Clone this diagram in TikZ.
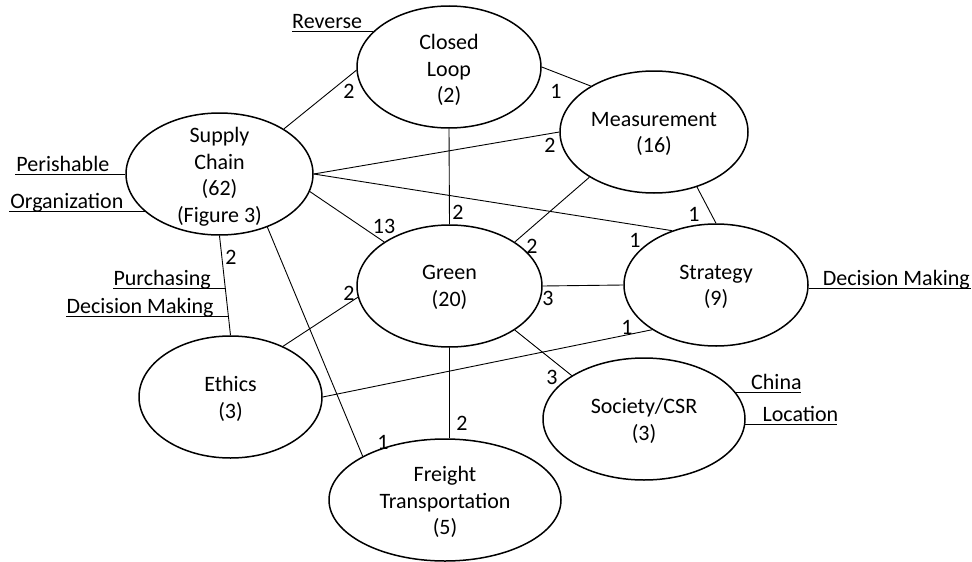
\documentclass[tikz,border=0pt]{standalone}
\usepackage{fontspec}
\setmainfont{Carlito}
\usetikzlibrary{shapes.geometric}
\begin{document}
\begin{tikzpicture}[x=1pt,y=-1pt,
  topic/.style={ellipse, draw, line width=1.5pt, inner sep=0pt},
  ttxt/.style={align=center, inner sep=0pt, font=\fontsize{22}{26.5}\selectfont},
  link/.style={line width=0.9pt},
  num/.style={inner sep=0pt, font=\fontsize{22}{26.5}\selectfont},
  side/.style={inner sep=0pt, anchor=base west, font=\fontsize{22}{26.5}\selectfont}]
\fill[white] (0,0) rectangle (972,562);
\useasboundingbox (0,0) rectangle (972,562);

% topics
\node[topic, minimum width=184pt, minimum height=122pt] (cl) at (449,67) {};
\node[topic, minimum width=188pt, minimum height=122pt] (me) at (654,132) {};
\node[topic, minimum width=187pt, minimum height=122pt] (sc) at (219.5,174) {};
\node[topic, minimum width=185pt, minimum height=122pt] (gr) at (449.5,286) {};
\node[topic, minimum width=184pt, minimum height=122pt] (st) at (716,285) {};
\node[topic, minimum width=183pt, minimum height=122pt] (et) at (230.5,397) {};
\node[topic, minimum width=232pt, minimum height=122pt] (fr) at (445,500) {};
\node[topic, minimum width=202pt, minimum height=122pt] (so) at (644,419) {};

\node[ttxt] (clt) at (449,70) {Closed\\Loop\\(2)};
\node[ttxt] (met) at (654,134) {Measurement\\(16)};
\node[ttxt] (sct) at (219.5,176.5) {Supply\\Chain\\(62)\\(Figure 3)};
\node[ttxt] (grt) at (449.5,287.5) {Green\\(20)};
\node[ttxt] (stt) at (716,287) {Strategy\\(9)};
\node[ttxt] (ett) at (230.5,399) {Ethics\\(3)};
\node[ttxt] (frt) at (445,502) {Freight\\Transportation\\(5)};
\node[ttxt] (sot) at (644,421) {Society/CSR\\(3)};

% connectors
\draw[link] (sc.35) -- (cl.182);
\draw[link] (cl.0) -- (me.144);
\draw[link] (sc.0) -- (me.180);
\draw[link] (sc.0) -- (st.129);
\draw[link] (sc.-11) -- (gr.146);
\draw[link] (cl.270) -- (gr.90);
\draw[link] (me.-145) -- (gr.34);
\draw[link] (me.-52) -- (st.90);
\draw[link] (gr.0) -- (st.180);
\draw[link] (gr.-34) -- (so.149);
\draw[link] (gr.187) -- (et.44);
\draw[link] (gr.270) -- (gr.270 |- fr.north);
\draw[link] (sc.-48) -- (fr.152);
\draw[link] (sc.270) -- coordinate[pos=0.53] (pu) coordinate[pos=0.81] (dmk) (et.90);
\draw[link] (et.0) -- (st.-145);

% counts
\node[num] (n1) at (349,91) {2};
\node[num] (n2) at (556,91) {1};
\node[num] (n3) at (550,145) {2};
\node[num] (n4) at (458,212) {2};
\node[num] (n5) at (384,226) {13};
\node[num] (n6) at (532,246) {2};
\node[num] (n7) at (694,214) {1};
\node[num] (n8) at (635,240) {1};
\node[num] (n9) at (548,298) {3};
\node[num] (n10) at (627,327) {1};
\node[num] (n11) at (552,377) {3};
\node[num] (n12) at (231,257) {2};
\node[num] (n13) at (349,293) {2};
\node[num] (n14) at (462,423) {2};
\node[num] (n15) at (383,442) {1};

% side keywords
\draw[link] (cl.155) -- ++(-81,0) coordinate (rvu);
\node[side] (rv) at ([yshift=3pt]rvu) {Reverse};
\draw[link] (sc.180) -- ++(-110,0) coordinate (peu);
\node[side] (pe) at ([yshift=3pt,xshift=1pt]peu) {Perishable};
\draw[link] (sc.207) -- ++(-136,0) coordinate (oru);
\node[side] (or) at ([yshift=3pt,xshift=1pt]oru) {Organization};
\draw[link] (pu) -- ++(-112,0) coordinate (puu);
\node[side] (pur) at ([yshift=3pt]puu) {Purchasing};
\draw[link] (dmk) -- ++(-162,0) coordinate (dmu);
\node[side] (dml) at ([yshift=3pt]dmu) {Decision Making};
\draw[link] (st.-2) -- ++(162,0) coordinate (dru);
\node[side] (dmr) at ([xshift=14pt,yshift=3pt]st.-2) {Decision Making};
\draw[link] (so.16) -- ++(65,0) coordinate (chu);
\node[side] (ch) at ([xshift=15pt,yshift=3pt]so.16) {China};
\draw[link] (so.-3) -- ++(92,0) coordinate (lou);
\node[side] (lo) at ([xshift=17pt,yshift=3pt]so.-3) {Location};
\end{tikzpicture}
\end{document}
